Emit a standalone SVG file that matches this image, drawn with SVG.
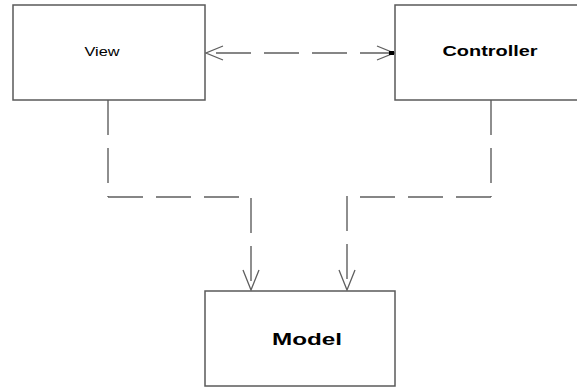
<svg xmlns="http://www.w3.org/2000/svg" width="577" height="387" viewBox="0 0 577 387">
<style>
.box{fill:#fff;stroke:#5a5a5a;stroke-width:1.5}
.dash{fill:none;stroke:#5f5f5f;stroke-width:1.4;stroke-dasharray:35 13}
.head{fill:none;stroke:#5f5f5f;stroke-width:1.3}
.lbl{font-family:"Liberation Sans",Arial,sans-serif;text-anchor:middle;fill:#000}
.b{font-weight:bold}
</style>
<rect width="577" height="387" fill="#fff"/>
<g id="connectors">
<line class="dash" x1="395" y1="53" x2="205" y2="53"/>
<polyline class="head" points="223,46 206,53 223,60"/>
<polyline class="head" points="377,46 394,53 377,60"/>
<rect x="389" y="51" width="5" height="4" fill="#000"/>
<line class="dash" x1="108" y1="100" x2="108" y2="197"/>
<line class="dash" x1="108" y1="197" x2="252" y2="197"/>
<line class="dash" x1="251" y1="198" x2="251" y2="290"/>
<polyline class="head" points="243,270 251,290 259,270"/>
<line class="dash" x1="491" y1="100" x2="491" y2="197"/>
<line class="dash" x1="491" y1="197" x2="347" y2="197"/>
<line class="dash" x1="347" y1="196" x2="347" y2="290"/>
<polyline class="head" points="339,270 347,290 355,270"/>
</g>
<g id="view">
<rect class="box" x="13" y="5" width="192" height="95"/>
<text class="lbl" x="102" y="56" font-size="12" textLength="35" lengthAdjust="spacingAndGlyphs" fill="#444">View</text>
</g>
<g id="controller">
<rect class="box" x="395" y="5" width="190" height="95"/>
<text class="lbl b" x="490" y="56" font-size="15" textLength="95" lengthAdjust="spacingAndGlyphs">Controller</text>
</g>
<g id="model">
<rect class="box" x="205" y="291" width="190" height="95"/>
<text class="lbl b" x="307" y="345" font-size="16" textLength="70" lengthAdjust="spacingAndGlyphs">Model</text>
</g>
</svg>
